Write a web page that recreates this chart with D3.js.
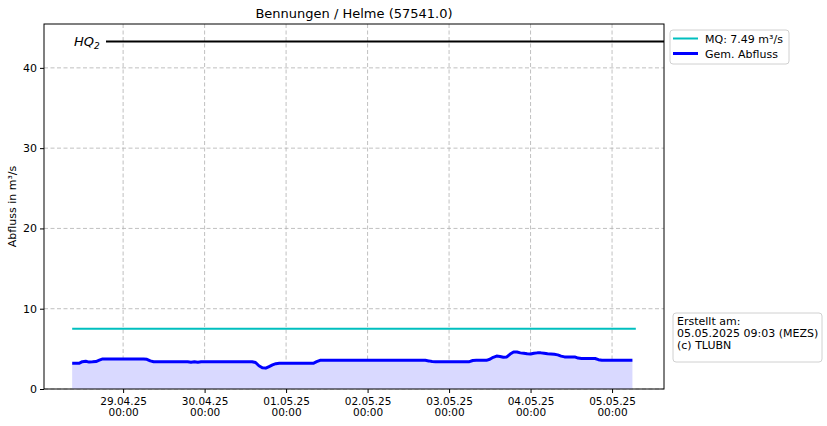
<!DOCTYPE html>
<html>
<head>
<meta charset="utf-8">
<script src="https://cdn.jsdelivr.net/npm/d3@7"></script>
<style>
  html, body { margin: 0; padding: 0; background: #fff; }
  svg { display: block; font-family: "DejaVu Sans", sans-serif; }
</style>
</head>
<body>
<svg id="chart" width="827" height="426"></svg>
<script>
// ---------- data ----------
const title = "Bennungen / Helme (57541.0)";
const yLabel = "Abfluss in m³/s";
const seriesStart = "2025-04-28T09:00:00";   // first hourly reading
const mqEnd = "2025-05-05T07:00:00";
const flowValues = [
  3.2, 3.2, 3.2, 3.4, 3.45, 3.35, 3.38, 3.42, 3.6, 3.75,             // 09-18 (28.04)
  3.75, 3.75, 3.75, 3.75, 3.75, 3.75, 3.75, 3.75, 3.75, 3.75, 3.75, 3.75, // 19-30
  3.7, 3.5, 3.4, 3.4, 3.4, 3.4, 3.4, 3.4, 3.4, 3.4, 3.4, 3.4,        // 31-42
  3.4, 3.33, 3.4, 3.33, 3.4, 3.4, 3.4, 3.4, 3.4, 3.4, 3.4, 3.4,      // 43-54
  3.4, 3.4, 3.4, 3.4, 3.4, 3.4, 3.4, 3.4, 3.3, 2.9, 2.65, 2.6,       // 55-66
  2.8, 3.0, 3.15, 3.2, 3.2, 3.2, 3.2, 3.2, 3.2, 3.2, 3.2, 3.2,       // 67-78
  3.2, 3.2, 3.4, 3.57, 3.57, 3.57, 3.57, 3.57, 3.57, 3.57, 3.57, 3.57, // 79-90
  3.57, 3.57, 3.57, 3.57, 3.57, 3.57, 3.57, 3.57, 3.57, 3.57, 3.57, 3.57, // 91-102
  3.57, 3.57, 3.57, 3.57, 3.57, 3.57, 3.57, 3.57, 3.57, 3.57, 3.57, 3.5, // 103-114
  3.42, 3.4, 3.4, 3.4, 3.4, 3.4, 3.4, 3.4, 3.4, 3.4, 3.4, 3.4,       // 115-126
  3.55, 3.57, 3.57, 3.57, 3.57, 3.7, 3.95, 4.1, 4.05, 3.95, 4.0, 4.35, // 127-138
  4.6, 4.6, 4.5, 4.45, 4.38, 4.35, 4.45, 4.5, 4.5, 4.45, 4.38, 4.35, // 139-150
  4.32, 4.25, 4.1, 4.0, 4.0, 4.0, 4.0, 3.85, 3.8, 3.8, 3.8, 3.8,     // 151-162
  3.8, 3.65, 3.57, 3.57, 3.57, 3.57, 3.57, 3.57, 3.57, 3.57, 3.57, 3.57 // 163-174
];
const mqValue = 7.49;
const hq2Value = 43.3;
const yTicks = [0, 10, 20, 30, 40];
const xTickDates = ["2025-04-29", "2025-04-30", "2025-05-01", "2025-05-02", "2025-05-03", "2025-05-04", "2025-05-05"];
const legendLabels = ["MQ: 7.49 m³/s", "Gem. Abfluss"];
const infoLines = ["Erstellt am:", "05.05.2025 09:03 (MEZS)", "(c) TLUBN"];

// ---------- layout ----------
const svg = d3.select("#chart");
const M = { left: 44, right: 664, top: 24, bottom: 389 };
const parse = d3.isoParse;
const t0 = parse(seriesStart);
const data = flowValues.map((v, i) => ({ t: d3.timeHour.offset(t0, i), v }));
const tMin = t0, tMax = parse(mqEnd);
const span = tMax - tMin;
const x = d3.scaleTime()
  .domain([new Date(+tMin - span * 0.05), new Date(+tMax + span * 0.05)])
  .range([M.left, M.right]);
const y = d3.scaleLinear().domain([0, hq2Value * 1.05]).range([M.bottom, M.top]);

// grid
const grid = svg.append("g");
xTickDates.forEach(d => {
  const xx = x(parse(d + "T00:00:00"));
  grid.append("line").attr("x1", xx).attr("x2", xx).attr("y1", M.top).attr("y2", M.bottom)
    .attr("stroke", "#b0b0b0").attr("stroke-width", 0.8).attr("stroke-dasharray", "4,2.5");
});
yTicks.forEach(v => {
  const yy = y(v);
  grid.append("line").attr("x1", M.left).attr("x2", M.right).attr("y1", yy).attr("y2", yy)
    .attr("stroke", "#b0b0b0").attr("stroke-width", 0.8).attr("stroke-dasharray", "4,2.5");
});

// area fill
svg.append("path").datum(data)
  .attr("d", d3.area().x(d => x(d.t)).y0(y(0)).y1(d => y(d.v)))
  .attr("fill", "#d9d9ff");

// MQ line
svg.append("line").attr("x1", x(tMin)).attr("x2", x(tMax))
  .attr("y1", y(mqValue)).attr("y2", y(mqValue))
  .attr("stroke", "#00bfbf").attr("stroke-width", 2);

// HQ2 line (axes fraction 0.1 -> 1.0)
svg.append("line").attr("x1", M.left + 0.1 * (M.right - M.left)).attr("x2", M.right)
  .attr("y1", y(hq2Value)).attr("y2", y(hq2Value))
  .attr("stroke", "#000").attr("stroke-width", 2);
const hq = svg.append("text").attr("x", M.left + 30).attr("y", y(hq2Value) + 4.5)
  .attr("font-size", 13).attr("font-style", "italic").attr("fill", "#000");
hq.append("tspan").text("HQ");
hq.append("tspan").text("2").attr("font-size", 9).attr("dy", 3);

// flow line
svg.append("path").datum(data)
  .attr("d", d3.line().x(d => x(d.t)).y(d => y(d.v)))
  .attr("fill", "none").attr("stroke", "#0000ff").attr("stroke-width", 3)
  .attr("stroke-linejoin", "round").attr("stroke-linecap", "butt");

// axes
const yAxis = d3.axisLeft(y).tickValues(yTicks).tickSize(4).tickPadding(3).tickFormat(d3.format("d"));
const gy = svg.append("g").attr("transform", `translate(${M.left},0)`).call(yAxis);
gy.select(".domain").remove();
gy.selectAll("text").attr("font-size", 11).attr("font-family", "DejaVu Sans").attr("fill", "#000");

const xAxis = d3.axisBottom(x).tickValues(xTickDates.map(d => parse(d + "T00:00:00"))).tickSize(4).tickFormat("");
const gx = svg.append("g").attr("transform", `translate(0,${M.bottom})`).call(xAxis);
gx.select(".domain").remove();
gx.selectAll(".tick").each(function(d) {
  const g = d3.select(this);
  g.append("text").attr("fill", "#000").attr("font-size", 10.5)
    .attr("text-anchor", "middle").attr("font-family", "DejaVu Sans")
    .attr("x", 0).attr("y", 16).text(d3.timeFormat("%d.%m.%y")(d));
  g.append("text").attr("fill", "#000").attr("font-size", 10.5)
    .attr("text-anchor", "middle").attr("font-family", "DejaVu Sans")
    .attr("x", 0).attr("y", 27).text("00:00");
});

// frame
svg.append("rect").attr("x", M.left).attr("y", M.top)
  .attr("width", M.right - M.left).attr("height", M.bottom - M.top)
  .attr("fill", "none").attr("stroke", "#000").attr("stroke-width", 1);

// title & y label
svg.append("text").attr("x", (M.left + M.right) / 2).attr("y", 18)
  .attr("text-anchor", "middle").attr("font-size", 13).text(title);
svg.append("text").attr("transform", `translate(16,${(M.top + M.bottom) / 2}) rotate(-90)`)
  .attr("text-anchor", "middle").attr("font-size", 11).text(yLabel);

// legend
const lg = svg.append("g");
lg.append("rect").attr("x", 670).attr("y", 30).attr("width", 119).attr("height", 34)
  .attr("rx", 3).attr("fill", "#fff").attr("stroke", "#d0d0d0");
const legColors = ["#00bfbf", "#0000ff"], legW = [2, 3];
legendLabels.forEach((lab, i) => {
  const yy = 38.5 + i * 15;
  lg.append("line").attr("x1", 673).attr("x2", 698).attr("y1", yy).attr("y2", yy)
    .attr("stroke", legColors[i]).attr("stroke-width", legW[i]);
  lg.append("text").attr("x", 705).attr("y", yy + 4).attr("font-size", 11).text(lab);
});

// info box
const ib = svg.append("g");
ib.append("rect").attr("x", 673).attr("y", 313).attr("width", 149).attr("height", 49)
  .attr("rx", 3).attr("fill", "#fff").attr("stroke", "#d0d0d0");
infoLines.forEach((l, i) => {
  ib.append("text").attr("x", 677).attr("y", 325 + i * 12).attr("font-size", 11).text(l);
});
</script>
</body>
</html>
